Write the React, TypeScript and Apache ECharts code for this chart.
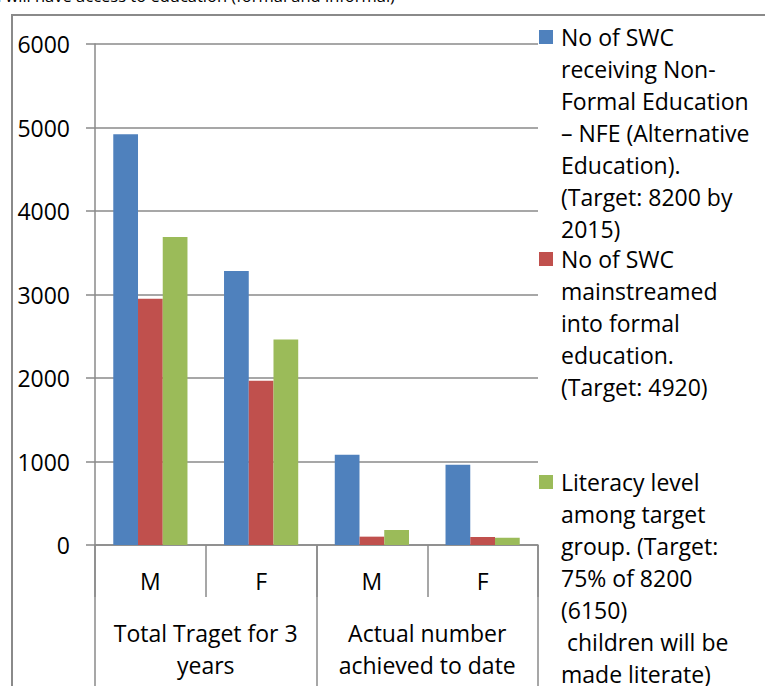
import React, { useEffect, useRef } from "react";
import * as echarts from "echarts";

const categories = ["M", "F", "M", "F"];
const groups = ["Total Traget for 3\nyears", "Actual number\nachieved to date"];
const yTicks = [0, 1000, 2000, 3000, 4000, 5000, 6000];
const seriesNames = [
  "No of SWC\nreceiving Non-\nFormal Education\n– NFE (Alternative\nEducation).\n(Target: 8200 by\n2015)",
  "No of SWC\nmainstreamed\ninto formal\neducation.\n(Target: 4920)",
  "Literacy level\namong target\ngroup. (Target:\n75% of 8200\n(6150)\n children will be\nmade literate)",
];
const nfeValues = [4920, 3280, 1080, 960];
const mainstreamedValues = [2950, 1968, 100, 96];
const literacyValues = [3690, 2460, 180, 88];
const colors = ["#4F81BD", "#C0504D", "#9BBB59"];
const titleText = "SWC will have access to education (formal and informal)";

const FONT = "'Open Sans', sans-serif";
const FS = 23;
const GRAY = "#8a8a8a";

export default function App() {
  const ref = useRef<HTMLDivElement>(null);
  useEffect(() => {
    if (!ref.current) return;
    const chart = echarts.init(ref.current, null, { renderer: "svg" });
    const values = [nfeValues, mainstreamedValues, literacyValues];
    const legendTops = [21, 243, 466];
    const graphics: any[] = [
      {
        type: "rect",
        shape: { x: 12, y: 15, width: 800, height: 720 },
        style: { fill: "none", stroke: GRAY, lineWidth: 2 },
        silent: true,
      },
      {
        type: "text",
        x: 395,
        y: -4.5,
        style: {
          text: titleText,
          font: `16.5px ${FONT}`,
          fill: "#000",
          textAlign: "right",
          textVerticalAlign: "middle",
        },
      },
    ];
    seriesNames.forEach((name, i) => {
      graphics.push({
        type: "rect",
        shape: { x: 539, y: legendTops[i] + 16 - 7, width: 14, height: 14 },
        style: { fill: colors[i] },
      });
      graphics.push({
        type: "text",
        x: 561,
        y: legendTops[i],
        style: {
          text: name,
          font: `${FS}px ${FONT}`,
          fill: "#000",
          lineHeight: 32,
          textVerticalAlign: "top",
        },
      });
    });

    chart.setOption({
      animation: false,
      backgroundColor: "#fff",
      grid: { left: 95, right: 227, top: 44, bottom: 141, containLabel: false },
      xAxis: [
        {
          type: "category",
          data: categories,
          position: "bottom",
          axisLine: { show: true, lineStyle: { color: GRAY, width: 1.5 } },
          axisTick: { show: true, interval: 0, length: 52, lineStyle: { color: GRAY, width: 1.5 } },
          axisLabel: {
            interval: 0,
            margin: 24,
            color: "#000",
            fontFamily: FONT,
            fontSize: FS,
          },
        },
        {
          type: "category",
          data: groups,
          position: "bottom",
          axisLine: { show: false },
          axisTick: { show: true, interval: 0, length: 141, lineStyle: { color: GRAY, width: 1.5 } },
          axisLabel: {
            interval: 0,
            margin: 72,
            color: "#000",
            fontFamily: FONT,
            fontSize: FS,
            lineHeight: 32,
          },
        },
      ],
      yAxis: {
        type: "value",
        min: yTicks[0],
        max: yTicks[yTicks.length - 1],
        interval: 1000,
        axisLine: { show: true, lineStyle: { color: GRAY, width: 1.5 } },
        axisTick: { show: true, length: 9, lineStyle: { color: GRAY, width: 1.5 } },
        axisLabel: {
          margin: 25,
          color: "#000",
          fontFamily: FONT,
          fontSize: FS,
          formatter: (v: number) => String(v),
        },
        splitLine: { show: true, lineStyle: { color: GRAY, width: 1.5 } },
      },
      series: seriesNames.map((name, i) => ({
        type: "bar",
        name,
        data: values[i],
        xAxisIndex: 0,
        barGap: "0%",
        barCategoryGap: "33%",
        itemStyle: { color: colors[i] },
      })),
      graphic: graphics,
    });
    return () => chart.dispose();
  }, []);
  return (
    <div
      ref={ref}
      style={{ position: "absolute", left: 0, top: 0, width: 765, height: 686, background: "#fff" }}
    />
  );
}
